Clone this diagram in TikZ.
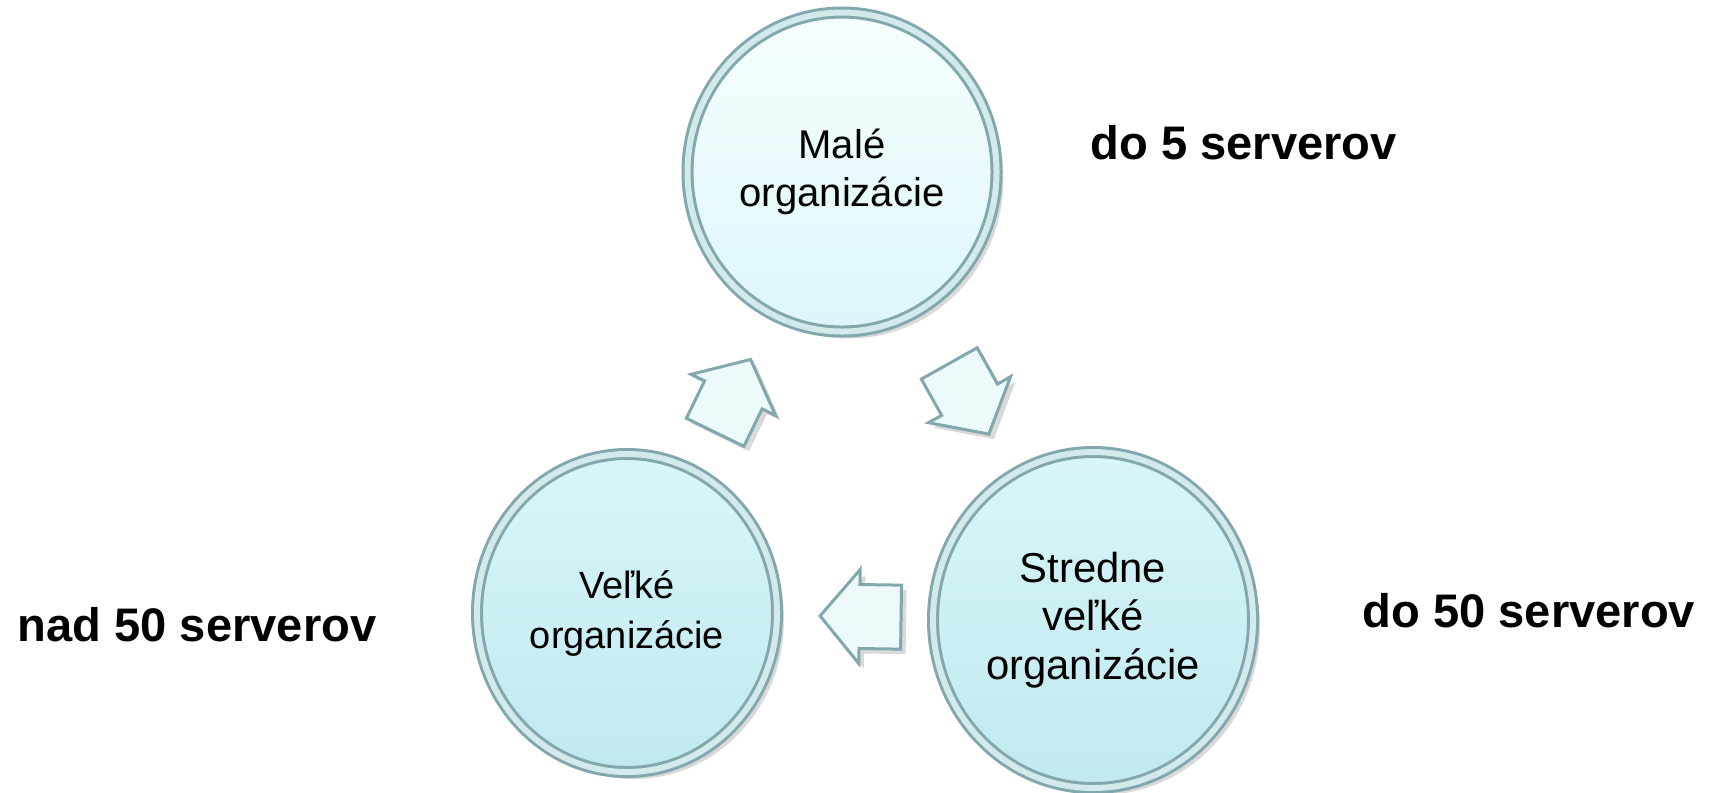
\documentclass[tikz,border=0pt]{standalone}
\usepackage{fontspec}
\setmainfont{Liberation Sans}
\usetikzlibrary{shapes.geometric,shapes.arrows,shadows}
\definecolor{rimdark}{HTML}{82A7AC}
\definecolor{rimlight}{HTML}{D3EAEC}
\definecolor{paletop}{HTML}{F6FEFF}
\definecolor{palebot}{HTML}{DDF6F9}
\definecolor{cyantop}{HTML}{D8F6FA}
\definecolor{cyanbot}{HTML}{C0E9EF}
\definecolor{arrowfill}{HTML}{EDFAFB}

\begin{document}
\begin{tikzpicture}[x=0.1mm, y=-0.1mm,
		bubble/.style={ellipse, draw=rimdark, line width=0.3mm, double=rimlight, double distance=0.6mm,
			top color=cyantop, bottom color=cyanbot, align=center, inner sep=0pt,
			drop shadow={shadow xshift=0.7mm, shadow yshift=-0.7mm, opacity=0.3}},
		cyc/.style={single arrow, draw=rimdark, line width=0.3mm, fill=arrowfill,
			minimum height=8.1mm, minimum width=9.1mm, single arrow head extend=1.5mm,
			single arrow tip angle=100, inner xsep=0pt, inner ysep=3.05mm,
			sloped, allow upside down,
			drop shadow={shadow xshift=0.5mm, shadow yshift=-0.5mm, opacity=0.3}},
		count/.style={font=\fontsize{13.4}{16}\selectfont\bfseries, anchor=west, inner sep=0pt},
	]
		\useasboundingbox (0,0) rectangle (1717,792);

		\node (sm) [bubble, minimum width=30.9mm, minimum height=31.9mm, top color=paletop, bottom color=palebot,
			font=\fontsize{11.4}{13.6}\selectfont] at (842,172) {Malé\\organizácie};
		\node (md) [bubble, minimum width=32mm, minimum height=33.6mm, font=\fontsize{11.9}{13.8}\selectfont]
			at (1093,620) {Stredne\\veľké\\organizácie};
		\node (lg) [bubble, minimum width=30mm, minimum height=31.8mm, font=\fontsize{10.8}{14.2}\selectfont]
			at (627,613) {Veľké\\organizácie};

		\node (csm) [count] at (1090,143) {do 5 serverov};
		\node (cmd) [count] at (1362,611) {do 50 serverov};
		\node (clg) [count] at (17,625) {nad 50 serverov};

		\path (sm.center) -- node (asm) [cyc, pos=0.48] {} (md.center);
		\path (md.center) -- node (amd) [cyc, pos=0.47] {} (lg.center);
		\path (lg.center) -- node (alg) [cyc, pos=0.465] {} (sm.center);
	\end{tikzpicture}
\end{document}
